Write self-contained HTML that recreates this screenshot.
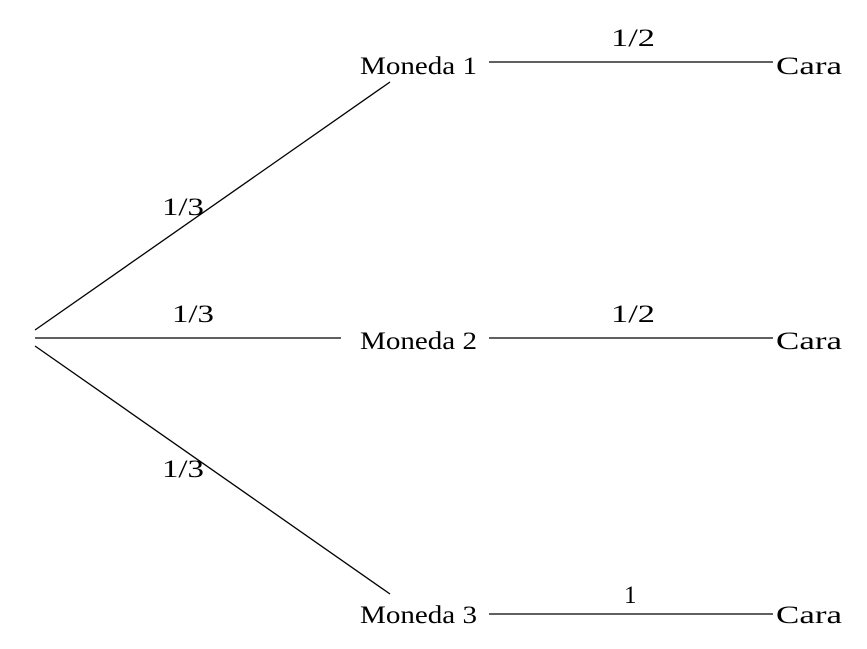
<!DOCTYPE html>
<html><head><meta charset="utf-8"><style>
html,body{margin:0;padding:0;background:#fff;}
svg{display:block;}
text{font-family:"Liberation Serif",serif;font-size:25px;fill:#000;}
</style></head><body>
<svg width="867" height="649" viewBox="0 0 867 649">
<g stroke="#000" stroke-width="1.3" fill="none">
<line x1="35" y1="330" x2="390" y2="82"/>
<line x1="35" y1="338" x2="341" y2="338"/>
<line x1="35" y1="346" x2="390" y2="594"/>
<line x1="489" y1="62" x2="773" y2="62"/>
<line x1="489" y1="338" x2="773" y2="338"/>
<line x1="489" y1="614" x2="773" y2="614"/>
</g>
<text x="360" y="74" textLength="117" lengthAdjust="spacingAndGlyphs">Moneda 1</text>
<text x="360" y="349" textLength="117" lengthAdjust="spacingAndGlyphs">Moneda 2</text>
<text x="360" y="623" textLength="117" lengthAdjust="spacingAndGlyphs">Moneda 3</text>
<text x="776" y="74" textLength="66" lengthAdjust="spacingAndGlyphs">Cara</text>
<text x="776" y="349" textLength="66" lengthAdjust="spacingAndGlyphs">Cara</text>
<text x="776" y="623" textLength="66" lengthAdjust="spacingAndGlyphs">Cara</text>
<text x="611" y="46" textLength="44" lengthAdjust="spacingAndGlyphs">1/2</text>
<text x="611" y="322" textLength="44" lengthAdjust="spacingAndGlyphs">1/2</text>
<text x="624" y="603">1</text>
<text x="162" y="215" textLength="42" lengthAdjust="spacingAndGlyphs">1/3</text>
<text x="172" y="322" textLength="42" lengthAdjust="spacingAndGlyphs">1/3</text>
<text x="162" y="477" textLength="42" lengthAdjust="spacingAndGlyphs">1/3</text>
</svg>
</body></html>
